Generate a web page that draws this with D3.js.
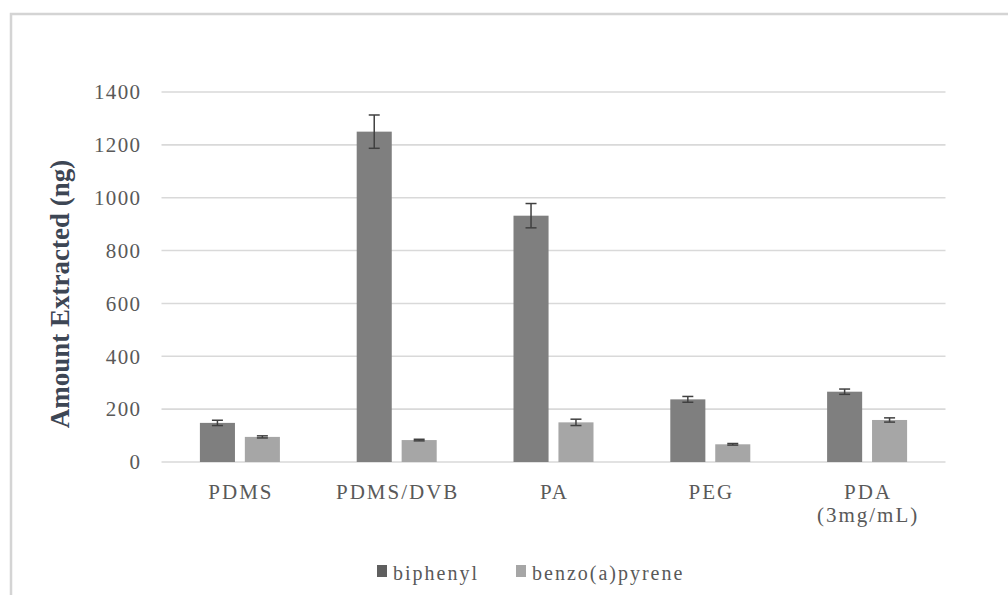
<!DOCTYPE html>
<html>
<head>
<meta charset="utf-8">
<script src="https://cdn.jsdelivr.net/npm/d3@7"></script>
<style>
  html, body { margin: 0; padding: 0; background: #fff; }
  svg { display: block; }
  text { font-family: "Liberation Serif", "Times New Roman", serif; }
</style>
</head>
<body>
<svg id="chart" width="1008" height="595"></svg>
<script>
// Fiber coatings and the amount of each analyte extracted (ng), with error bars
const categories = ["PDMS", "PDMS/DVB", "PA", "PEG", "PDA\n(3mg/mL)"];
const seriesNames = ["biphenyl", "benzo(a)pyrene"];
const biphenyl = [148, 1250, 932, 237, 266];
const biphenylErr = [10, 63, 46, 11, 10];
const benzopyrene = [95, 83, 150, 67, 159];
const benzopyreneErr = [4, 3, 12, 3, 8];
const yTicks = [0, 200, 400, 600, 800, 1000, 1200, 1400];

const colors = { "biphenyl": "#7f7f7f", "benzo(a)pyrene": "#a6a6a6" };

const svg = d3.select("#chart");
const W = 1008, H = 595;
const plot = { left: 161.5, right: 945.5, top: 92, bottom: 462 };

svg.append("rect").attr("width", W).attr("height", H).attr("fill", "#fff");

// chart area frame
svg.append("rect")
  .attr("x", 11).attr("y", 14)
  .attr("width", W + 20).attr("height", H + 20)
  .attr("fill", "none").attr("stroke", "#d4d4d4").attr("stroke-width", 2.5);

const x0 = d3.scaleBand().domain(categories)
  .range([plot.left, plot.right]).paddingInner(0).paddingOuter(0);
const x1 = d3.scaleBand().domain(seriesNames)
  .range([-40, 40]).paddingInner(0.22).paddingOuter(0);
const y = d3.scaleLinear().domain([0, 1400]).range([plot.bottom, plot.top]);

// horizontal gridlines
svg.append("g").selectAll("line").data(yTicks).join("line")
  .attr("x1", plot.left).attr("x2", plot.right)
  .attr("y1", d => y(d)).attr("y2", d => y(d))
  .attr("stroke", "#d9d9d9").attr("stroke-width", 1.6);

// y axis labels
const yAxis = svg.append("g")
  .attr("transform", `translate(${plot.left},0)`)
  .call(d3.axisLeft(y).tickValues(yTicks).tickFormat(d3.format("d")).tickSize(0).tickPadding(20));
yAxis.select(".domain").remove();
yAxis.selectAll("text")
  .attr("font-family", "Liberation Serif, serif")
  .attr("font-size", 21).attr("fill", "#595959")
  .style("letter-spacing", "1.4px");

// x axis labels (category names, possibly two lines)
const xAxis = svg.append("g")
  .attr("transform", `translate(0,${plot.bottom})`)
  .call(d3.axisBottom(x0).tickSize(0).tickFormat(""));
xAxis.select(".domain").remove();
xAxis.selectAll(".tick").each(function(d) {
  const g = d3.select(this);
  g.select("text").remove();
  const lines = d.split("\n");
  const t = g.append("text")
    .attr("text-anchor", "middle")
    .attr("font-family", "Liberation Serif, serif")
    .attr("font-size", 21).attr("fill", "#595959")
    .style("letter-spacing", "2px");
  lines.forEach((ln, i) => {
    t.append("tspan").attr("x", 1).attr("y", 37 + i * 22.5).text(ln);
  });
});

// bars
const rows = categories.map((c, i) => ({
  cat: c,
  vals: [
    { s: "biphenyl", v: biphenyl[i], e: biphenylErr[i] },
    { s: "benzo(a)pyrene", v: benzopyrene[i], e: benzopyreneErr[i] }
  ]
}));

const groups = svg.append("g").selectAll("g").data(rows).join("g")
  .attr("transform", d => `translate(${x0(d.cat) + x0.bandwidth() / 2},0)`);

groups.selectAll("rect").data(d => d.vals).join("rect")
  .attr("x", d => x1(d.s)).attr("width", x1.bandwidth())
  .attr("y", d => y(d.v)).attr("height", d => y(0) - y(d.v))
  .attr("fill", d => colors[d.s]);

// error bars
const cap = 5.5;
const eb = groups.selectAll("g.err").data(d => d.vals).join("g").attr("class", "err")
  .attr("stroke", "#404040").attr("stroke-width", 1.5);
eb.append("line")
  .attr("x1", d => x1(d.s) + x1.bandwidth() / 2).attr("x2", d => x1(d.s) + x1.bandwidth() / 2)
  .attr("y1", d => y(d.v - d.e)).attr("y2", d => y(d.v + d.e));
eb.append("line")
  .attr("x1", d => x1(d.s) + x1.bandwidth() / 2 - cap).attr("x2", d => x1(d.s) + x1.bandwidth() / 2 + cap)
  .attr("y1", d => y(d.v + d.e)).attr("y2", d => y(d.v + d.e));
eb.append("line")
  .attr("x1", d => x1(d.s) + x1.bandwidth() / 2 - cap).attr("x2", d => x1(d.s) + x1.bandwidth() / 2 + cap)
  .attr("y1", d => y(d.v - d.e)).attr("y2", d => y(d.v - d.e));

// y axis title
svg.append("text")
  .attr("transform", "translate(69,294) rotate(-90)")
  .attr("text-anchor", "middle")
  .attr("font-size", 27).attr("font-weight", "bold")
  .attr("fill", "#3d4654")
  .text("Amount Extracted (ng)");

// legend
const legend = svg.append("g");
let lx = 377;
seriesNames.forEach(s => {
  legend.append("rect").attr("x", lx).attr("y", 565).attr("width", 10).attr("height", 12)
    .attr("fill", s === "biphenyl" ? "#5f5f5f" : colors[s]);
  const t = legend.append("text").attr("x", lx + 16).attr("y", 580)
    .attr("font-size", 20).attr("fill", "#595959")
    .style("letter-spacing", "2px").text(s);
  lx += 16 + t.node().getComputedTextLength() + 37;
});
</script>
</body>
</html>
